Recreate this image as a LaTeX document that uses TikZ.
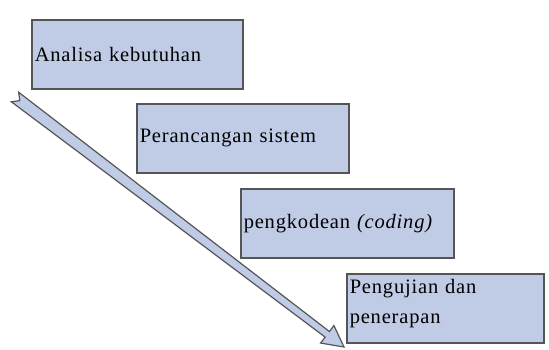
\documentclass[tikz,border=0pt]{standalone}
\usepackage{fontspec}
\setmainfont[LetterSpace=4]{Liberation Serif}
\usepackage{xcolor}
\usepackage{tikz}
\usetikzlibrary{calc}

\definecolor{boxfill}{RGB}{192,204,230}
\definecolor{boxline}{RGB}{85,85,85}

\begin{document}
\begin{tikzpicture}[
    x=1pt, y=-1pt,
    area/.style={rectangle, draw=boxline, fill=boxfill, line width=1.5pt, anchor=north west,
      minimum height=69pt, inner sep=3pt, align=left,
      font=\fontsize{20.5}{30}\selectfont},
    arrowshape/.style={draw=boxline, fill=boxfill, line width=1.2pt, line join=miter}
  ]
    \useasboundingbox (0,0) rectangle (549,349);

    \node[area, minimum width=211pt, text width=205pt] (ak) at (31,19) {Analisa kebutuhan};
    \node[area, minimum width=212pt, text width=206pt] (ps) at (136,103) {Perancangan sistem};
    \node[area, minimum width=213pt, text width=207pt] (pk) at (240,188) {pengkodean \textit{(coding)}};
    \node[area, minimum width=197pt, text width=191pt] (pp) at (346,273) {Pengujian dan\\penerapan\\[-16pt]\mbox{}};

    % long notched arrow
    \coordinate (tail) at (15,97);
    \coordinate (tip) at (344,347);
    \coordinate (base) at ($(tip)!21pt!(tail)$);
    \draw[arrowshape]
      ($(tail)!6pt!90:(tip)$) -- ($(base)!3.5pt!-90:(tail)$) -- ($(base)!11pt!-90:(tail)$)
      -- (tip) -- ($(base)!11pt!90:(tail)$) -- ($(base)!3.5pt!90:(tail)$)
      -- ($(tail)!6pt!-90:(tip)$) -- ($(tail)!6pt!(tip)$) -- cycle;
  \end{tikzpicture}
\end{document}
